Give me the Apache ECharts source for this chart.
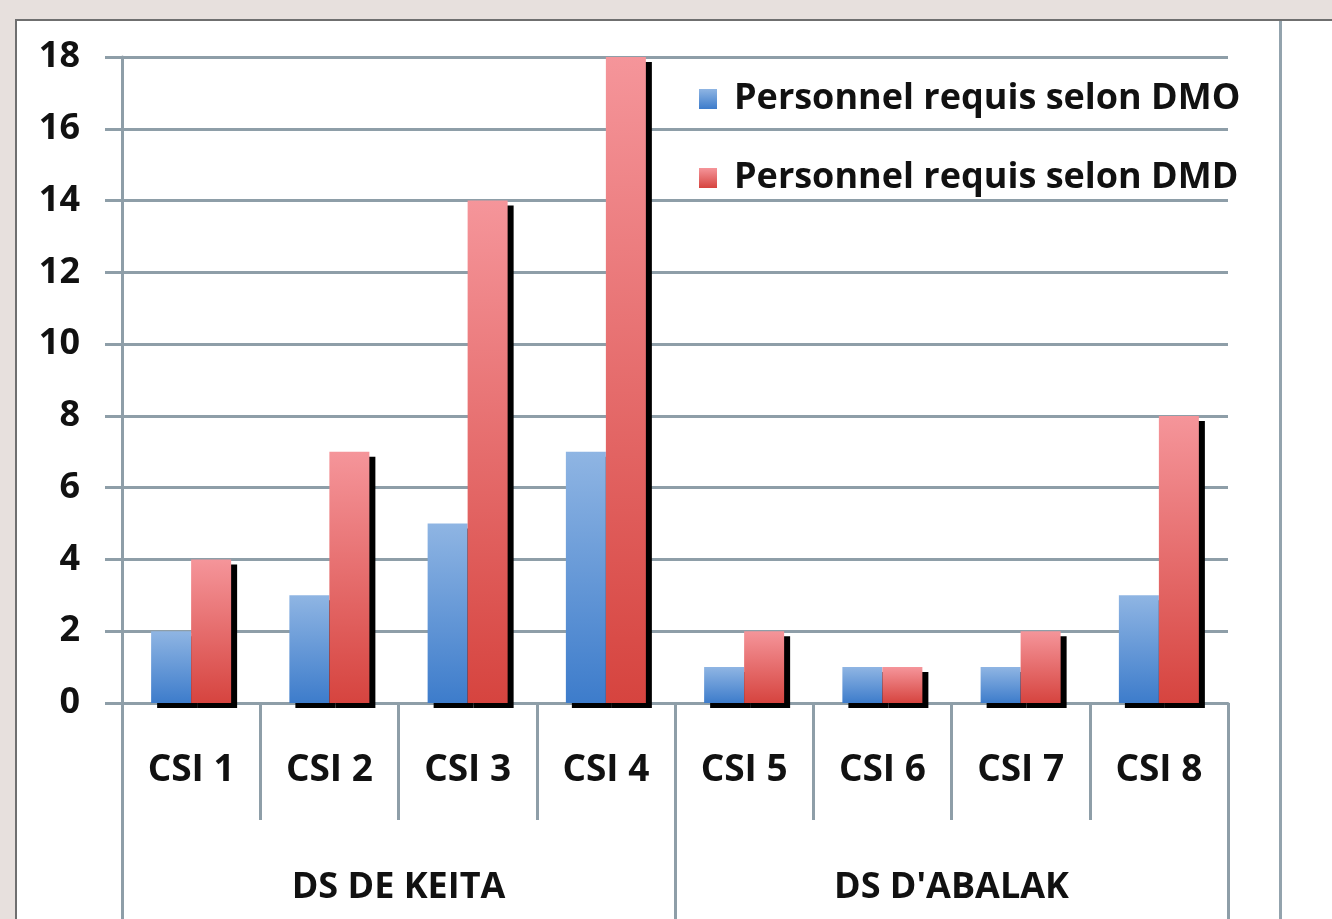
<!DOCTYPE html>
<html>
<head>
<meta charset="utf-8">
<script src="https://cdn.jsdelivr.net/npm/echarts@6/dist/echarts.min.js"></script>
<style>
  html, body { margin: 0; padding: 0; background: #e7e0dd; }
  #panel { position: absolute; left: 15px; top: 19px; width: 1317px; height: 900px; background: #ffffff; border-top: 2px solid #6f6f6f; border-left: 2px solid #6f6f6f; box-sizing: border-box; }
  #frame { position: absolute; left: 1279px; top: 21px; width: 3px; height: 898px; background: #93a3ad; }
  #chart { position: absolute; left: 0; top: 0; width: 1332px; height: 919px; }
</style>
</head>
<body>
<div id="panel"></div>
<div id="frame"></div>
<div id="chart"></div>
<script>
const categories = ["CSI 1", "CSI 2", "CSI 3", "CSI 4", "CSI 5", "CSI 6", "CSI 7", "CSI 8"];
const groups = ["DS DE KEITA", "DS D'ABALAK"];
const seriesNames = ["Personnel requis selon DMO", "Personnel requis selon DMD"];
const dmoValues = [2, 3, 5, 7, 1, 1, 1, 3];
const dmdValues = [4, 7, 14, 18, 2, 1, 2, 8];
const yMin = 0, yMax = 18, yStep = 2;

const FONT = "Open Sans";
const lineColor = "#8e9ea8";

function grad(top, bottom) {
  return new echarts.graphic.LinearGradient(0, 0, 0, 1, [
    { offset: 0, color: top }, { offset: 1, color: bottom }
  ]);
}

const chart = echarts.init(document.getElementById('chart'), null, { renderer: 'canvas' });
const barStyle = (top, bottom) => ({
  color: grad(top, bottom),
  shadowColor: '#000000',
  shadowOffsetX: 6,
  shadowOffsetY: 5,
  shadowBlur: 0
});

chart.setOption({
  backgroundColor: 'transparent',
  animation: false,
  grid: { left: 122, right: 104, top: 57, bottom: 216, containLabel: false },
  legend: {
    orient: 'vertical',
    left: 699,
    top: 81,
    padding: 0,
    itemWidth: 18,
    itemHeight: 20,
    itemGap: 43,
    icon: 'rect',
    textStyle: { fontFamily: FONT, fontWeight: 'bold', fontSize: 36, color: '#111111', padding: [0, 0, 0, 12] },
    data: seriesNames
  },
  xAxis: [
    {
      type: 'category',
      data: categories,
      position: 'bottom',
      axisLine: { show: true, lineStyle: { color: lineColor, width: 3 } },
      axisTick: { show: true, interval: 0, length: 117, lineStyle: { color: lineColor, width: 3 } },
      axisLabel: { interval: 0, margin: 49, fontFamily: FONT, fontWeight: 'bold', fontSize: 37, color: '#111111' },
      splitLine: { show: false }
    },
    {
      type: 'category',
      data: groups,
      position: 'bottom',
      axisLine: { show: false },
      axisTick: { show: true, interval: 0, length: 230, lineStyle: { color: lineColor, width: 3 } },
      axisLabel: { interval: 0, margin: 167, fontFamily: FONT, fontWeight: 'bold', fontSize: 36, color: '#111111' },
      splitLine: { show: false }
    }
  ],
  yAxis: {
    type: 'value',
    min: yMin, max: yMax, interval: yStep,
    axisLine: { show: true, lineStyle: { color: lineColor, width: 3 } },
    axisTick: { show: true, length: 17, lineStyle: { color: lineColor, width: 3 } },
    axisLabel: { margin: 42, fontFamily: FONT, fontWeight: 'bold', fontSize: 36, color: '#111111' },
    splitLine: { show: true, lineStyle: { color: lineColor, width: 3 } }
  },
  series: [
    {
      name: seriesNames[0], type: 'bar', xAxisIndex: 0, data: dmoValues,
      barWidth: 40, barGap: '0%',
      itemStyle: barStyle('#8fb5e3', '#3d7ccb')
    },
    {
      name: seriesNames[1], type: 'bar', xAxisIndex: 0, data: dmdValues,
      barWidth: 40, barGap: '0%',
      itemStyle: barStyle('#f5959a', '#d6443f')
    }
  ]
});
</script>
</body>
</html>
